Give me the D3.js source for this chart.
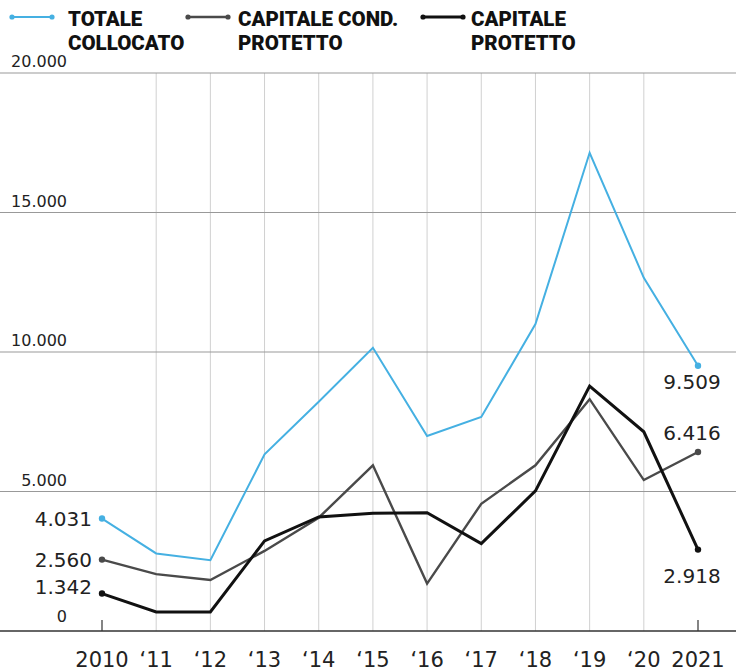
<!DOCTYPE html>
<html lang="it">
<head>
<meta charset="UTF-8">
<title>Collocato</title>
<style>
  body { margin: 0; background: #fff; }
  svg { display: block; }
  .num { font-family: 'DejaVu Sans', sans-serif; fill: #222; }
  .leg { font-family: 'Roboto', 'Liberation Sans', sans-serif; font-weight: 900; fill: #111; }
</style>
</head>
<body>
<div id="chart"></div>
<script src="https://cdn.jsdelivr.net/npm/d3@7"></script>
<script>
var years = [2010, 2011, 2012, 2013, 2014, 2015, 2016, 2017, 2018, 2019, 2020, 2021];
var yearLabels = ['2010', '\u201811', '\u201812', '\u201813', '\u201814', '\u201815', '\u201816', '\u201817', '\u201818', '\u201819', '\u201820', '2021'];
var totale = [4031, 2780, 2540, 6330, 8220, 10150, 6990, 7670, 11000, 17140, 12660, 9509];
var condProtetto = [2560, 2040, 1830, 2870, 4060, 5940, 1700, 4560, 5940, 8310, 5410, 6416];
var protetto = [1342, 680, 680, 3230, 4090, 4220, 4240, 3130, 5020, 8780, 7140, 2918];
var yTicks = [0, 5000, 10000, 15000, 20000];

var series = [
  { name: ['TOTALE', 'COLLOCATO'], values: totale, color: '#45b0e2', width: 2, legX: 12, textX: 68 },
  { name: ['CAPITALE COND.', 'PROTETTO'], values: condProtetto, color: '#4a4a4a', width: 2.4, legX: 188, textX: 238 },
  { name: ['CAPITALE', 'PROTETTO'], values: protetto, color: '#111', width: 3, legX: 423, textX: 471 }
];

var W = 736, H = 672;
var fmt = d3.format(',d');
function itNum(v) { return fmt(v).replace(/,/g, '.'); }

var svg = d3.select('#chart').append('svg').attr('width', W).attr('height', H);

var x = d3.scaleLinear().domain([2010, 2021]).range([102, 698]);
var y = d3.scaleLinear().domain([0, 20000]).range([631, 73]);

// vertical grid
svg.append('g').selectAll('line')
  .data(years.slice(1, -1))
  .join('line')
  .attr('x1', d => x(d)).attr('x2', d => x(d))
  .attr('y1', y(0)).attr('y2', y(20000))
  .attr('stroke', '#d0d0d0').attr('stroke-width', 1);

// horizontal grid
svg.append('g').selectAll('line')
  .data(yTicks)
  .join('line')
  .attr('x1', 0).attr('x2', W)
  .attr('y1', d => y(d)).attr('y2', d => y(d))
  .attr('stroke', d => d === 0 ? '#333' : '#999')
  .attr('stroke-width', d => d === 0 ? 1.5 : 1);

// small ticks at ends
svg.append('g').selectAll('line')
  .data([2010, 2021])
  .join('line')
  .attr('x1', d => x(d)).attr('x2', d => x(d))
  .attr('y1', y(0)).attr('y2', y(0) - 11)
  .attr('stroke', '#333').attr('stroke-width', 1.2);

// y labels
svg.append('g').selectAll('text')
  .data(yTicks)
  .join('text')
  .attr('class', 'num')
  .attr('x', 67)
  .attr('y', d => y(d) - (d === 0 ? 9 : 6))
  .attr('text-anchor', 'end')
  .attr('font-size', 16)
  .text(d => itNum(d));

// x labels
svg.append('g').selectAll('text')
  .data(years)
  .join('text')
  .attr('class', 'num')
  .attr('x', d => x(d))
  .attr('y', 667)
  .attr('text-anchor', 'middle')
  .attr('font-size', 21)
  .text((d, i) => yearLabels[i]);

var line = d3.line().x((d, i) => x(years[i])).y(d => y(d));

series.forEach(function(s) {
  svg.append('path')
    .attr('d', line(s.values))
    .attr('fill', 'none')
    .attr('stroke', s.color)
    .attr('stroke-width', s.width)
    .attr('stroke-linejoin', 'miter');
  svg.selectAll(null)
    .data([0, s.values.length - 1])
    .enter().append('circle')
    .attr('cx', i => x(years[i]))
    .attr('cy', i => y(s.values[i]))
    .attr('r', 3.2)
    .attr('fill', s.color);

  // legend
  var lg = svg.append('g');
  lg.append('line')
    .attr('x1', s.legX).attr('x2', s.legX + 40)
    .attr('y1', 17).attr('y2', 17)
    .attr('stroke', s.color).attr('stroke-width', s.width);
  lg.selectAll('circle')
    .data([s.legX, s.legX + 40])
    .join('circle')
    .attr('cx', d => d).attr('cy', 17).attr('r', 2.6)
    .attr('fill', s.color);
  lg.selectAll('text')
    .data(s.name)
    .join('text')
    .attr('class', 'leg')
    .attr('x', s.textX)
    .attr('y', (d, i) => 26 + i * 23.5)
    .attr('font-size', 20.5)
    .text(d => d);
});

// start value labels (left of 2010)
var first = [totale[0], condProtetto[0], protetto[0]];
var firstY = [526, 567, 594];
svg.append('g').selectAll('text')
  .data(first)
  .join('text')
  .attr('class', 'num')
  .attr('x', 92)
  .attr('y', (d, i) => firstY[i])
  .attr('text-anchor', 'end')
  .attr('font-size', 20)
  .text(d => itNum(d));

// end value labels
var last = [totale[11], condProtetto[11], protetto[11]];
var lastY = [y(totale[11]) + 23, y(condProtetto[11]) - 12, y(protetto[11]) + 33];
svg.append('g').selectAll('text')
  .data(last)
  .join('text')
  .attr('class', 'num')
  .attr('x', 692)
  .attr('y', (d, i) => lastY[i])
  .attr('text-anchor', 'middle')
  .attr('font-size', 20)
  .text(d => itNum(d));
</script>
</body>
</html>
